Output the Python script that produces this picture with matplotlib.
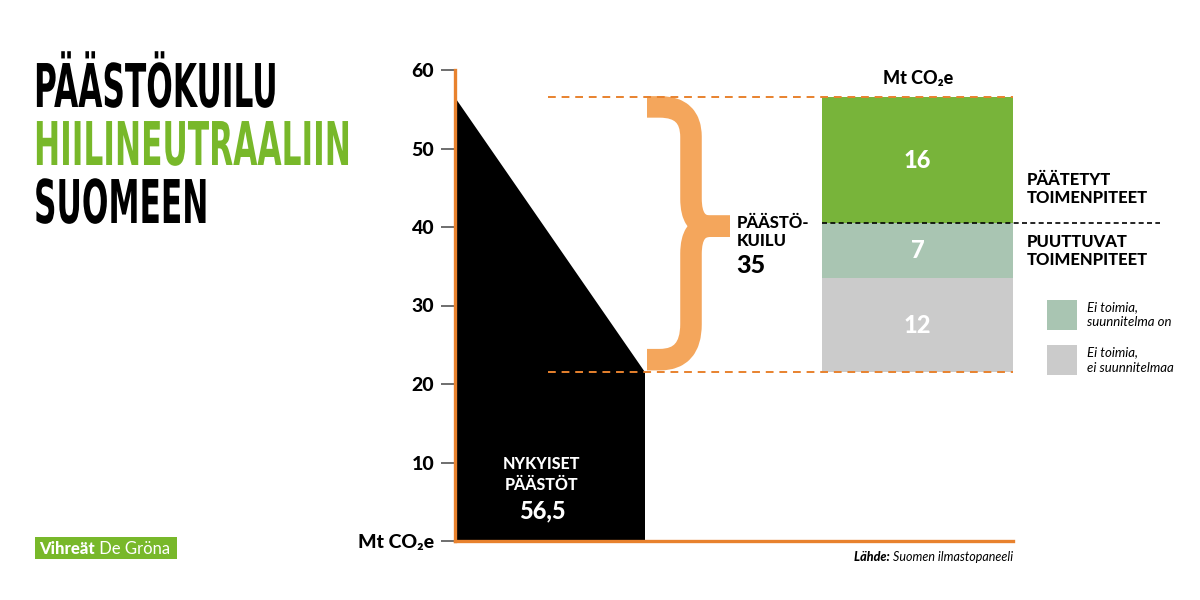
import matplotlib.pyplot as plt
from matplotlib.path import Path
from matplotlib.patches import PathPatch, Rectangle
from matplotlib.patheffects import AbstractPathEffect
from matplotlib.transforms import Affine2D

# emissions gap to carbon-neutral Finland (Mt CO2e)
current = 56.5
gap = 35
target = current - gap
stack_labels = ['Ei toimia,\nei suunnitelmaa', 'Ei toimia,\nsuunnitelma on', 'Päätetyt toimenpiteet']
stack_values = [12, 7, 16]
stack_colors = ['#cbcbcb', '#a9c5b2', '#78b43a']
yticks = [0, 10, 20, 30, 40, 50, 60]
ytick_labels = ['Mt CO₂e', '10', '20', '30', '40', '50', '60']
title_lines = ['PÄÄSTÖKUILU', 'HIILINEUTRAALIIN', 'SUOMEEN']

ORANGE = '#e8822e'
BRACE = '#f4a65c'
GREEN = '#78b82a'
FONT = ['Lato', 'DejaVu Sans']
BOLD = 'black'

W, H = 1200, 600
fig = plt.figure(figsize=(12, 6), dpi=100)
fig.patch.set_facecolor('white')


def fx(x):
    return x / W


def fy(y):
    return 1 - y / H


class Stretch(AbstractPathEffect):
    # tall narrow letters for the title (no condensed font installed)
    def __init__(self, sy, y0):
        super().__init__()
        self.sy = sy
        self.y0 = y0

    def draw_path(self, renderer, gc, tpath, affine, rgbFace=None):
        yd = fig.transFigure.transform((0, self.y0))[1]
        t = affine + Affine2D().translate(0, -yd).scale(1, self.sy).translate(0, yd)
        renderer.draw_path(gc, tpath, t, rgbFace)


ax = fig.add_axes([455 / W, 59 / H, 558 / W, 471 / H])
ax.set_xlim(0, 558)
ax.set_ylim(0, 60)
for s in ['top', 'right']:
    ax.spines[s].set_visible(False)
for s in ['left', 'bottom']:
    ax.spines[s].set_color(ORANGE)
    ax.spines[s].set_linewidth(2.4)
ax.set_xticks([])
ax.set_yticks(yticks)
ax.set_yticklabels(ytick_labels, fontsize=14, fontweight=BOLD, family=FONT)
ax.tick_params(axis='y', length=10, width=1.2, color='#555555', pad=5)

# current emissions shape
ax.fill([0, 0, 190, 190], [0, current, target, 0], color='black', lw=0, zorder=2)
for txt, y, fs in [('NYKYISET', 9.17, 11.5), ('PÄÄSTÖT', 6.5, 11.5),
                   (str(current).replace('.', ','), 2.93, 17)]:
    ax.text(87, y, txt, color='white', fontsize=fs, fontweight=BOLD,
            family=FONT, ha='center', va='baseline', zorder=3)

# dashed guides
ax.hlines([current, target], 93, 558, colors=ORANGE, lw=1.4,
          linestyles=(0, (4, 3)), zorder=4)

# stacked bar
bottom = target
for v, c in zip(stack_values, stack_colors):
    ax.bar(462.5, v, width=191, bottom=bottom, color=c, lw=0, zorder=3)
    ax.text(462.5, bottom + v / 2, str(v), color='white', fontsize=17,
            fontweight=BOLD, family=FONT, ha='center', va='center', zorder=5)
    bottom += v
split = target + stack_values[0] + stack_values[1]
ax.plot([367, 705], [split, split], color='black', lw=1.2,
        linestyle=(0, (3, 2)), clip_on=False, zorder=5)

# curly brace, drawn as two halves meeting at the tip
top_y, bot_y, tip_y = 55.3, 23.1, 40.1
x0, xv, xt = 192, 236, 275
upper = [(x0, top_y), (x0 + 13, top_y), (xv, top_y), (xv, 51.5),
         (xv, 43.6), (xv, tip_y), (xv + 19, tip_y), (xt, tip_y)]
lower = [(x0, bot_y), (x0 + 13, bot_y), (xv, bot_y), (xv, 27.6),
         (xv, 36.6), (xv, tip_y), (xv + 19, tip_y), (xt, tip_y)]
codes = [Path.MOVETO, Path.LINETO, Path.CURVE3, Path.CURVE3,
         Path.LINETO, Path.CURVE3, Path.CURVE3, Path.LINETO]
for verts in [upper, lower]:
    ax.add_patch(PathPatch(Path(verts, codes), fill=False, edgecolor=BRACE, lw=15.5,
                           capstyle='butt', joinstyle='round', zorder=3))
ax.text(282, 39.9, 'PÄÄSTÖ-', fontsize=12, fontweight=BOLD, family=FONT,
        ha='left', va='baseline')
ax.text(282, 37.6, 'KUILU', fontsize=12, fontweight=BOLD, family=FONT,
        ha='left', va='baseline')
ax.text(281, 34.1, str(gap), fontsize=18, fontweight=BOLD, family=FONT,
        ha='left', va='baseline')

# labels around the bar
fig.text(fx(918), fy(78), 'Mt CO₂e', fontsize=13, fontweight=BOLD, family=FONT,
         ha='center', va='center')
fig.text(fx(1027), fy(189), 'PÄÄTETYT\nTOIMENPITEET', fontsize=12, fontweight=BOLD,
         family=FONT, ha='left', va='center', linespacing=1.15)
fig.text(fx(1027), fy(251), 'PUUTTUVAT\nTOIMENPITEET', fontsize=12, fontweight=BOLD,
         family=FONT, ha='left', va='center', linespacing=1.15)

# legend
for i, (lab, c) in enumerate(zip([stack_labels[1], stack_labels[0]],
                                 [stack_colors[1], stack_colors[0]])):
    y = 300 + i * 45
    fig.patches.append(Rectangle((fx(1047), fy(y + 30)), 30 / W, 30 / H,
                                 transform=fig.transFigure, color=c, lw=0))
    fig.text(fx(1087), fy(y + 15), lab, fontsize=9.5, style='italic', family=FONT,
             ha='left', va='center', linespacing=1.3)

# title
for txt, base, c in zip(title_lines, [107, 165, 223], ['black', GREEN, 'black']):
    fig.text(fx(34), fy(base), txt, color=c, family='DejaVu Sans', fontweight='bold',
             fontsize=22.5, ha='left', va='baseline',
             path_effects=[Stretch(1.93, fy(base))])

# logo
fig.patches.append(Rectangle((fx(35), fy(559)), 142 / W, 22 / H, zorder=-1,
                             transform=fig.transFigure, color=GREEN, lw=0))
logo = fig.text(fx(39), fy(548.5), 'Vihreät', color='white', fontsize=12,
                fontweight=BOLD, family=FONT, ha='left', va='center')
ax.annotate(' De Gröna', xy=(1, 0.5), xycoords=logo, color='white', fontsize=12,
            family=FONT, ha='left', va='center', annotation_clip=False)

# source
src = fig.text(fx(1013), fy(557), 'Suomen ilmastopaneeli', fontsize=9, style='italic',
               family=FONT, ha='right', va='center')
ax.annotate('Lähde: ', xy=(0, 0.5), xycoords=src, fontsize=9, fontweight=BOLD,
            style='italic', family=FONT, ha='right', va='center', annotation_clip=False)

fig.savefig('out.png', dpi=100)
